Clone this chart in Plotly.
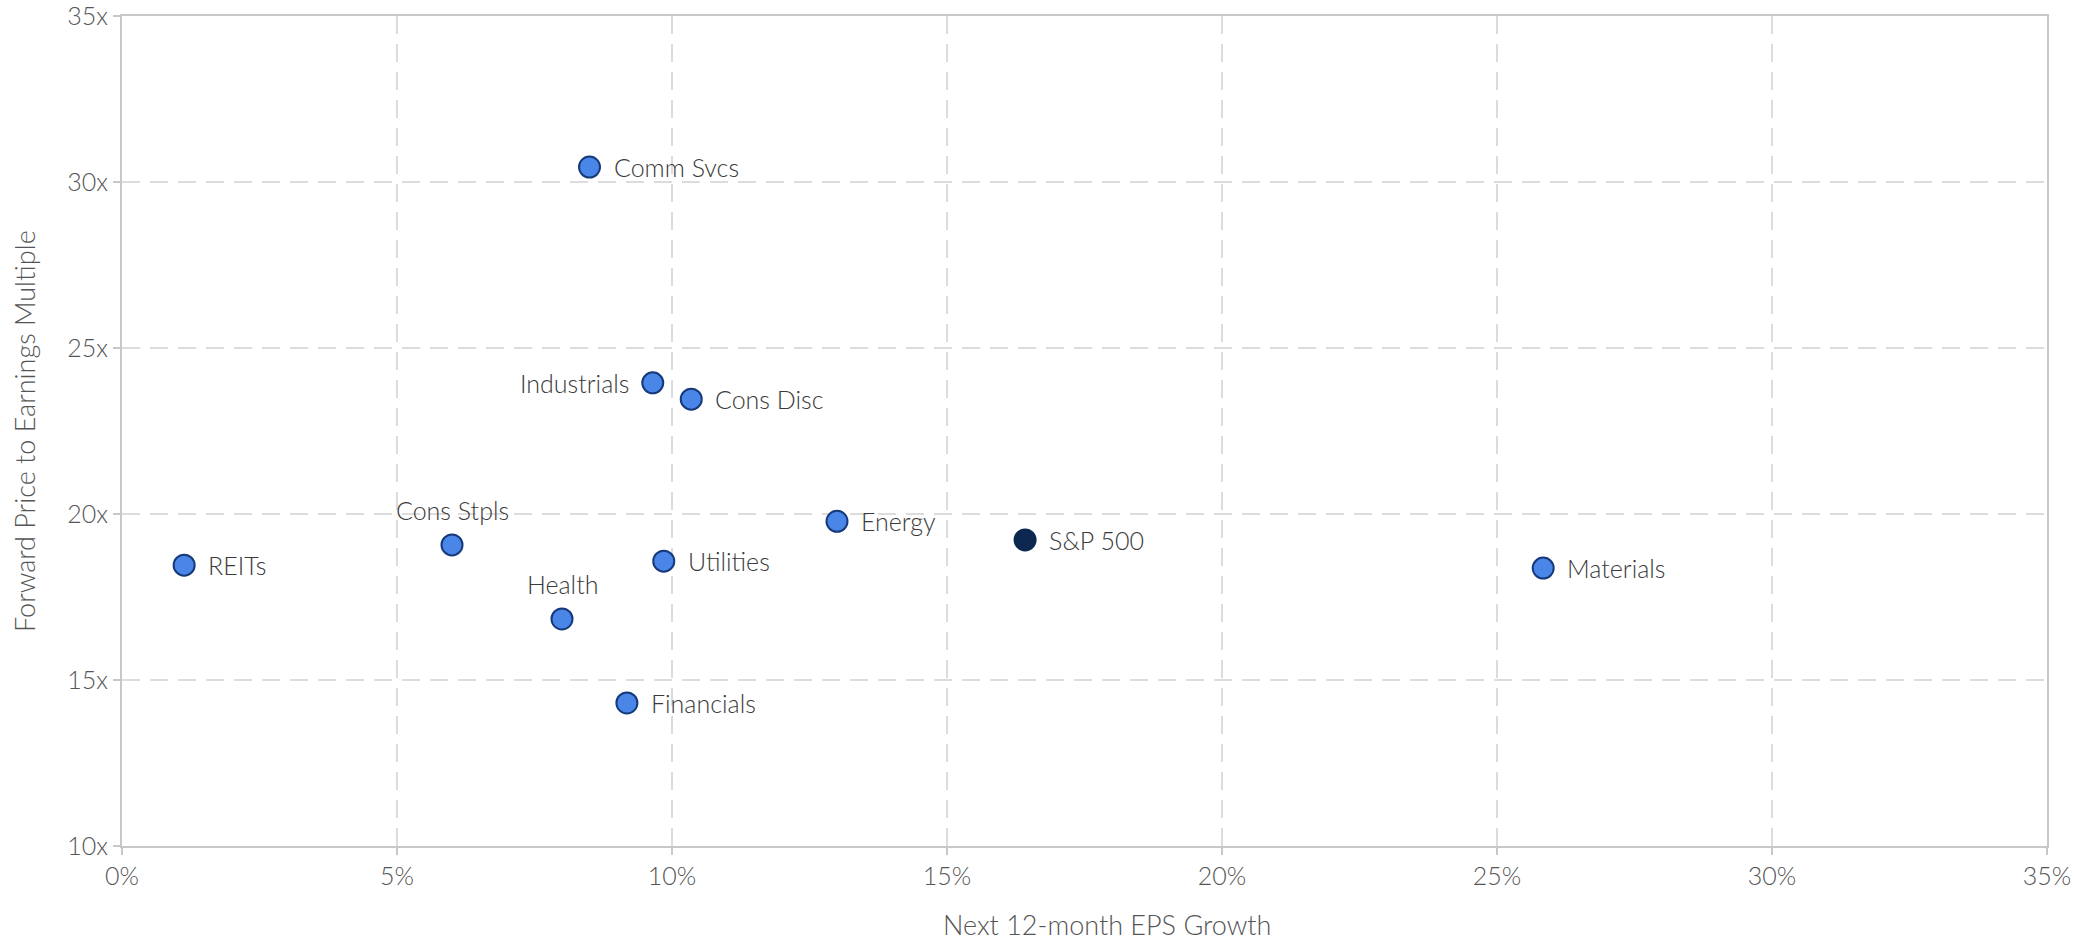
import plotly.graph_objects as go

sectors = ["REITs", "Cons Stpls", "Health", "Financials", "Comm Svcs", "Industrials",
           "Cons Disc", "Utilities", "Energy", "Materials"]
eps_growth = [1.13, 6.0, 8.0, 9.18, 8.5, 9.65, 10.35, 9.85, 13.0, 25.84]
fwd_pe = [18.46, 19.07, 16.84, 14.31, 30.45, 23.95, 23.46, 18.58, 19.78, 18.37]
label_pos = ["right", "top", "top", "right", "right", "left", "right", "right", "right", "right"]

index_name = ["S&P 500"]
index_growth = [16.42]
index_pe = [19.22]

x_ticks = [0, 5, 10, 15, 20, 25, 30, 35]
x_tick_text = ["0%", "5%", "10%", "15%", "20%", "25%", "30%", "35%"]
y_ticks = [10, 15, 20, 25, 30, 35]
y_tick_text = ["10x", "15x", "20x", "25x", "30x", "35x"]

x_title = "Next 12-month EPS Growth"
y_title = "Forward Price to Earnings Multiple"

FONT = "Lato, 'Open Sans', sans-serif"
TXT = "#555555"
LBL = "#3a3a3a"

fig = go.Figure()
fig.add_trace(go.Scatter(
    x=eps_growth, y=fwd_pe, mode="markers",
    marker=dict(size=21, color="#4a86e8", line=dict(color="#15397a", width=2)),
    hoverinfo="text", text=sectors, showlegend=False))
fig.add_trace(go.Scatter(
    x=index_growth, y=index_pe, mode="markers",
    marker=dict(size=21, color="#0c2750", line=dict(color="#0c2750", width=2)),
    hoverinfo="text", text=index_name, showlegend=False))

annotations = []
for name, xv, yv, pos in zip(sectors + index_name, eps_growth + index_growth,
                              fwd_pe + index_pe, label_pos + ["right"]):
    a = dict(x=xv, y=yv, text=name, showarrow=False,
             font=dict(family=FONT, size=25, color=LBL, weight=300))
    if pos == "right":
        a.update(xanchor="left", yanchor="middle", xshift=22)
    elif pos == "left":
        a.update(xanchor="right", yanchor="middle", xshift=-22)
    else:
        a.update(xanchor="center", yanchor="bottom", yshift=18)
    annotations.append(a)

annotations.append(dict(text=x_title, xref="paper", yref="paper", x=0.5, y=0,
                        xanchor="center", yanchor="middle", xshift=22, yshift=-78,
                        showarrow=False,
                        font=dict(family=FONT, size=27, color=TXT, weight=300)))
annotations.append(dict(text=y_title, xref="paper", yref="paper", x=0, y=0.5,
                        xanchor="center", yanchor="middle", xshift=-98, textangle=-90,
                        showarrow=False,
                        font=dict(family=FONT, size=27, color=TXT, weight=300)))

axis_common = dict(
    showline=True, linecolor="#c8c8c8", linewidth=2, mirror=True,
    showgrid=True, gridcolor="#dcdcdc", gridwidth=2, griddash="18px,10px",
    ticks="outside", ticklen=7, tickcolor="#c8c8c8", tickwidth=2,
    zeroline=False, automargin=False, ticklabeloverflow="allow",
    tickfont=dict(family=FONT, size=25, color=TXT, weight=300),
)

fig.update_layout(
    width=2094, height=941,
    paper_bgcolor="white", plot_bgcolor="white",
    margin=dict(l=122, r=47, t=16, b=95),
    font=dict(family=FONT, color=TXT),
    xaxis=dict(range=[0, 35], tickvals=x_ticks, ticktext=x_tick_text, **axis_common),
    yaxis=dict(range=[10, 35], tickvals=y_ticks, ticktext=y_tick_text, **axis_common),
    annotations=annotations,
)

fig.write_html("out.html", config={"displayModeBar": False},
               post_script="document.body.style.margin='0';")
